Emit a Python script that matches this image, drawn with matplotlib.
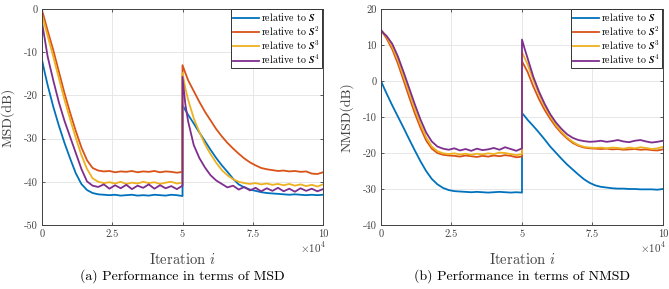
import matplotlib
matplotlib.use('Agg')
from matplotlib import pyplot as plt

plt.rcParams['font.family'] = 'cmr10'
plt.rcParams['mathtext.fontset'] = 'cm'
plt.rcParams['axes.unicode_minus'] = False

# iteration index in thousands (value 50 appears twice: the jump)
iters_k = [0, 1, 2, 4, 6, 8, 10, 12, 14, 16, 18, 20, 22, 24, 26, 28, 30, 32, 34, 36, 38, 40, 42, 44, 46, 48, 50,
           50, 51, 52, 54, 56, 58, 60, 62, 64, 66, 68, 70, 72, 74, 76, 78, 80, 82, 84, 86, 88, 90, 92, 94, 96, 98, 100]

# MSD (dB)
msd_s1 = [-11.8, -14.8, -17.6, -22.6, -27.0, -31.0, -34.6, -38.0, -40.5, -41.9, -42.6, -42.9, -43.0, -43.1, -43.0,
          -43.2, -43.1, -43.0, -43.2, -43.1, -43.2, -43.0, -43.1, -43.2, -43.0, -43.1, -43.3,
          -22.3, -23.4, -24.5, -26.5, -28.6, -30.6, -32.6, -34.5, -36.2, -37.7, -39.3, -40.6, -41.3, -41.8, -42.1,
          -42.4, -42.6, -42.7, -42.8, -42.9, -43.0, -42.9, -43.0, -43.1, -43.0, -43.1, -43.0]
msd_s2 = [-0.3, -2.6, -5.0, -9.5, -14.5, -19.5, -24.0, -28.2, -32.0, -35.0, -36.8, -37.4, -37.6, -37.5, -37.8,
          -37.6, -37.7, -37.5, -37.8, -37.6, -37.7, -37.5, -37.8, -37.6, -37.7, -37.9, -37.7,
          -13.0, -14.8, -16.5, -19.0, -21.5, -23.8, -25.8, -27.8, -29.5, -31.0, -32.3, -33.5, -34.6, -35.5, -36.2,
          -36.8, -37.1, -37.3, -37.5, -37.4, -37.6, -37.5, -37.7, -37.6, -38.1, -38.2, -37.8]
msd_s3 = [-1.5, -3.8, -6.2, -11.0, -16.0, -21.0, -25.5, -29.8, -33.8, -37.0, -39.2, -40.0, -40.3, -40.1, -40.4,
          -40.0, -40.5, -40.2, -40.4, -40.0, -40.3, -40.1, -40.5, -40.2, -40.0, -40.4, -40.2,
          -14.8, -18.3, -21.0, -25.3, -28.5, -31.3, -33.6, -35.6, -37.3, -38.5, -39.4, -40.0, -40.3, -40.5, -40.3,
          -40.6, -40.4, -40.7, -40.5, -40.8, -40.5, -40.9, -40.6, -41.0, -40.7, -41.1, -40.6]
msd_s4 = [-3.2, -7.0, -11.0, -16.5, -21.6, -25.9, -29.6, -33.3, -37.0, -39.9, -40.9, -41.2, -40.6, -41.6, -40.8,
          -41.5, -40.7, -41.7, -40.9, -41.4, -40.6, -41.6, -40.8, -41.5, -41.0, -41.7, -40.9,
          -15.7, -22.0, -26.0, -31.5, -34.5, -36.7, -38.5, -39.7, -40.5, -41.3, -40.9, -41.8, -41.2, -42.0, -41.4,
          -42.2, -41.5, -42.1, -41.4, -42.2, -41.6, -42.3, -41.5, -42.1, -41.6, -42.2, -41.7]

# NMSD (dB)
nmsd_s1 = [0.0, -1.8, -3.5, -6.8, -9.9, -13.0, -16.2, -19.3, -22.3, -25.0, -27.2, -28.7, -29.7, -30.3, -30.6,
           -30.7, -30.8, -30.9, -30.8, -30.9, -31.0, -30.9, -30.8, -30.9, -31.0, -30.9, -31.0,
           -8.9, -9.8, -10.8, -12.5, -14.3, -16.2, -18.2, -19.9, -21.6, -23.2, -24.6, -26.0, -27.3, -28.3, -29.0,
           -29.4, -29.6, -29.8, -29.9, -29.9, -30.0, -30.0, -30.1, -30.1, -30.1, -30.2, -30.0]
nmsd_s2 = [14.0, 13.0, 11.8, 8.8, 4.8, 0.2, -4.5, -9.0, -13.0, -16.5, -18.8, -20.0, -20.5, -20.7, -20.8,
           -21.0, -20.7, -20.9, -21.1, -20.8, -21.0, -20.7, -20.9, -20.6, -20.8, -21.2, -21.0,
           5.5, 4.0, 2.5, -1.5, -5.0, -8.0, -10.5, -12.7, -14.5, -16.0, -17.2, -18.0, -18.5, -18.7, -18.8,
           -18.9, -18.8, -19.0, -18.9, -19.1, -19.0, -18.9, -19.1, -19.0, -19.2, -19.3, -19.0]
nmsd_s3 = [14.0, 13.3, 12.3, 9.5, 5.8, 1.3, -3.3, -7.8, -12.0, -15.6, -18.2, -19.5, -20.1, -20.3, -20.1,
           -20.4, -20.2, -20.5, -20.2, -20.4, -20.1, -20.3, -19.9, -20.0, -20.3, -20.6, -20.3,
           8.0, 6.3, 4.6, 0.3, -3.6, -7.0, -9.8, -12.2, -14.1, -15.7, -16.9, -17.8, -18.3, -18.5, -18.6,
           -18.5, -18.7, -18.5, -18.6, -18.8, -18.5, -18.7, -18.4, -18.6, -18.9, -18.7, -18.3]
nmsd_s4 = [14.2, 13.2, 12.5, 10.3, 6.8, 2.5, -2.0, -6.5, -10.7, -14.3, -16.8, -18.2, -18.8, -19.1, -18.7,
           -19.3, -18.9, -19.4, -18.8, -19.2, -19.0, -18.6, -19.1, -18.4, -18.9, -19.4, -18.7,
           11.5, 8.8, 6.3, 1.2, -2.9, -6.3, -9.2, -11.5, -13.3, -14.8, -15.8, -16.4, -16.7, -16.9, -16.8,
           -16.6, -16.9, -16.7, -16.4, -16.8, -17.0, -16.6, -16.4, -16.8, -17.1, -16.9, -16.6]

labels = [r'relative to $\boldsymbol{S}$', r'relative to $\boldsymbol{S}^2$',
          r'relative to $\boldsymbol{S}^3$', r'relative to $\boldsymbol{S}^4$']
colors = ['#0072BD', '#D95319', '#EDB120', '#7E2F8E']
xtick_vals = [0, 25000, 50000, 75000, 100000]
xtick_labels = ['0', '2.5', '5', '7.5', '10']

iters = [k * 1000 for k in iters_k]
axcol = '#404040'

fig = plt.figure(figsize=(6.69, 2.89), dpi=100)
ax1 = fig.add_axes([0.0628, 0.2215, 0.42, 0.7474])
ax2 = fig.add_axes([0.5695, 0.2215, 0.4215, 0.7474])


def style(ax, series, ylim, yticks, ylabel, caption):
    for ys, c, lab in zip(series, colors, labels):
        ax.plot(iters, ys, color=c, lw=1.3, label=lab)
    ax.set_xlim(0, 100000)
    ax.set_ylim(*ylim)
    ax.set_xticks(xtick_vals)
    ax.set_xticklabels(xtick_labels)
    ax.set_yticks(yticks)
    ax.set_yticklabels([str(v) for v in yticks])
    ax.grid(True, color='#e3e3e3', lw=0.6)
    ax.set_axisbelow(True)
    ax.tick_params(direction='in', top=True, right=True, length=2.5, width=0.6,
                   labelsize=7.5, colors=axcol, pad=3)
    for sp in ax.spines.values():
        sp.set_color(axcol)
        sp.set_linewidth(0.7)
    ax.set_ylabel(ylabel, fontsize=10, color=axcol)
    ax.yaxis.set_label_coords(-0.097, 0.5)
    ax.set_xlabel(r'Iteration $i$', fontsize=10.5, color=axcol)
    ax.xaxis.set_label_coords(0.5, -0.125)
    ax.text(0.965, -0.106, r'$\times10^4$', transform=ax.transAxes, ha='center', va='center',
            fontsize=8, color=axcol)
    ax.text(0.5, -0.236, caption, transform=ax.transAxes, ha='center', va='center', fontsize=10)
    leg = ax.legend(loc='upper right', fontsize=7.2, frameon=True, fancybox=False,
                    borderpad=0.2, labelspacing=0.08, handlelength=2.6, handletextpad=0.25,
                    borderaxespad=0.05, framealpha=1)
    leg.get_frame().set_edgecolor('#333333')
    leg.get_frame().set_linewidth(0.7)


style(ax1, [msd_s1, msd_s2, msd_s3, msd_s4], (-50, 0), [-50, -40, -30, -20, -10, 0],
      'MSD(dB)', '(a) Performance in terms of MSD')
style(ax2, [nmsd_s1, nmsd_s2, nmsd_s3, nmsd_s4], (-40, 20), [-40, -30, -20, -10, 0, 10, 20],
      'NMSD(dB)', '(b) Performance in terms of NMSD')

plt.savefig('out.png', dpi=100)
